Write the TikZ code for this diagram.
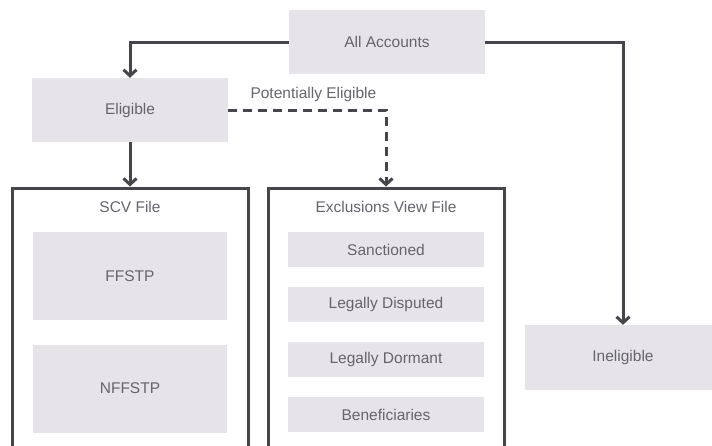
\documentclass[tikz,border=0pt]{standalone}
\usepackage{fontspec}
\setmainfont{Liberation Sans}
\usetikzlibrary{arrows.meta}
\definecolor{boxgray}{HTML}{E6E4E9}
\definecolor{linegray}{HTML}{47454C}
\definecolor{textgray}{HTML}{66656C}
\begin{document}
\begin{tikzpicture}
  [x=1pt,y=-1pt,
   every node/.style={inner sep=0pt, text=textgray, font=\fontsize{15.5}{18}\selectfont},
   box/.style={fill=boxgray, minimum width=196pt, minimum height=64pt},
   item/.style={fill=boxgray, minimum width=196pt, minimum height=35pt},
   frame/.style={draw=linegray, line width=3pt, minimum width=236pt, minimum height=282pt},
   link/.style={draw=linegray, line width=3pt, -{Straight Barb[length=6pt,width=13pt]}}]

 \fill[white] (0,0) rectangle (712,445);
 \clip (0,0) rectangle (712,445);

 \node[box] (acc)  at (387,42)    {All Accounts};
 \node[box] (elig) at (130,110)   {Eligible};
 \node[box, minimum height=65pt] (inel) at (623,357.5) {Ineligible};

 \node[frame] (scv) at (130,329) {};
 \node[frame] (exv) at (386,329) {};
 \node (scvt) at (130,207) {SCV File};
 \node (exvt) at (386,207) {Exclusions View File};

 \node[box, minimum width=194pt, minimum height=88pt] (ff)  at (130,276)   {FFSTP};
 \node[box, minimum width=194pt, minimum height=88pt] (nff) at (130,388.5) {NFFSTP};

 \foreach \txt [count=\i] in {Sanctioned, Legally Disputed, Legally Dormant, Beneficiaries}
   \node[item] (ex\i) at (386,{249.5+55*(\i-1)}) {\txt};

 \draw[link] (acc.west) -| (elig.north);
 \draw[link] (acc.east) -| (inel.north);
 \draw[link] (elig.south) -- (scv.north);
 \draw[link, dash pattern=on 9pt off 6pt] (elig.east) -| (exv.north)
   node[pos=0.27, above=7pt] {Potentially Eligible};

\end{tikzpicture}
\end{document}
